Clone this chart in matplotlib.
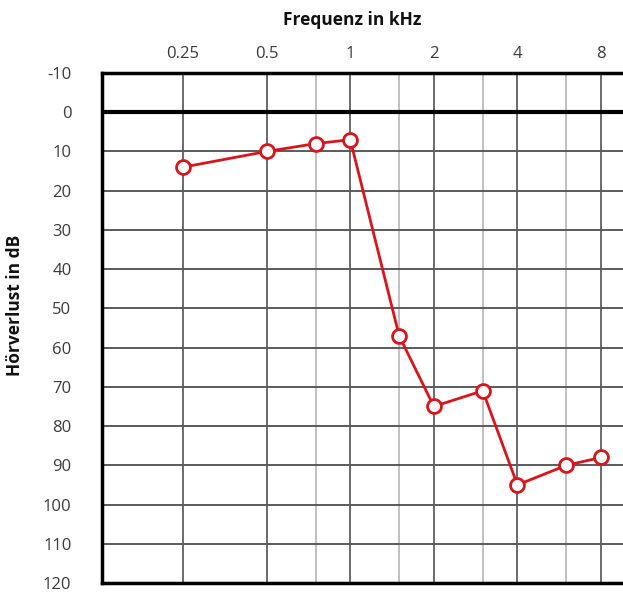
import matplotlib
matplotlib.use("Agg")
import matplotlib.pyplot as plt
from matplotlib.ticker import FixedLocator, NullLocator, NullFormatter

# Audiogram data
freqs_khz = [0.25, 0.5, 0.75, 1, 1.5, 2, 3, 4, 6, 8]
loss_db = [14, 10, 8, 7, 57, 75, 71, 95, 90, 88]

octave_ticks = [0.25, 0.5, 1, 2, 4, 8]
octave_labels = ["0.25", "0.5", "1", "2", "4", "8"]
mid_ticks = [0.75, 1.5, 3, 6]
db_ticks = list(range(-10, 121, 10))

plt.rcParams["font.family"] = ["Open Sans", "DejaVu Sans"]
plt.rcParams["axes.unicode_minus"] = False

W, H = 623, 595
fig = plt.figure(figsize=(W / 100, H / 100), dpi=100)
left, top, bottom = 102, 73, 583
ax = fig.add_axes([left / W, 1 - bottom / H, (W - left) / W, (bottom - top) / H])

ax.set_xscale("log", base=2)
ax.set_xlim(0.1276, 9.6)
ax.set_ylim(120, -10)

# Grid: octaves darker, half-octaves lighter
for f in octave_ticks:
    ax.axvline(f, color="#6a6a6a", lw=1.4, zorder=1)
for f in mid_ticks:
    ax.axvline(f, color="#c0c0c0", lw=1.4, zorder=1)
for d in db_ticks[1:-1]:
    ax.axhline(d, color="#5a5a5a", lw=1.4, zorder=1)
ax.axhline(0, color="black", lw=3, zorder=2)

ax.plot(freqs_khz, loss_db, color="#d8141c", lw=2, marker="o", ms=10,
        mfc="white", mec="#d8141c", mew=2, zorder=3, clip_on=False)

ax.xaxis.set_major_locator(FixedLocator(octave_ticks))
ax.xaxis.set_minor_locator(NullLocator())
ax.xaxis.set_minor_formatter(NullFormatter())
ax.set_xticklabels(octave_labels)
ax.xaxis.tick_top()
ax.xaxis.set_label_position("top")
ax.set_yticks(db_ticks)

ax.tick_params(axis="both", length=0, labelsize=12, colors="#3a3a3a")
ax.tick_params(axis="x", pad=8)
ax.tick_params(axis="y", pad=22)

for side in ["left", "top", "bottom"]:
    ax.spines[side].set_linewidth(2.5)
    ax.spines[side].set_color("black")
ax.spines["right"].set_visible(False)

ax.set_xlabel("Frequenz in kHz", fontsize=12.5, fontweight="bold", color="#111111")
ax.set_ylabel("Hörverlust in dB", fontsize=12.5, fontweight="bold", color="#111111")
ax.xaxis.label.set_va("center")
ax.yaxis.label.set_va("center")
ax.xaxis.set_label_coords((352 - left) / (W - left), (bottom - 20) / (bottom - top))
ax.yaxis.set_label_coords((15 - left) / (W - left), (bottom - 305) / (bottom - top))

fig.savefig("out.png", dpi=100)
